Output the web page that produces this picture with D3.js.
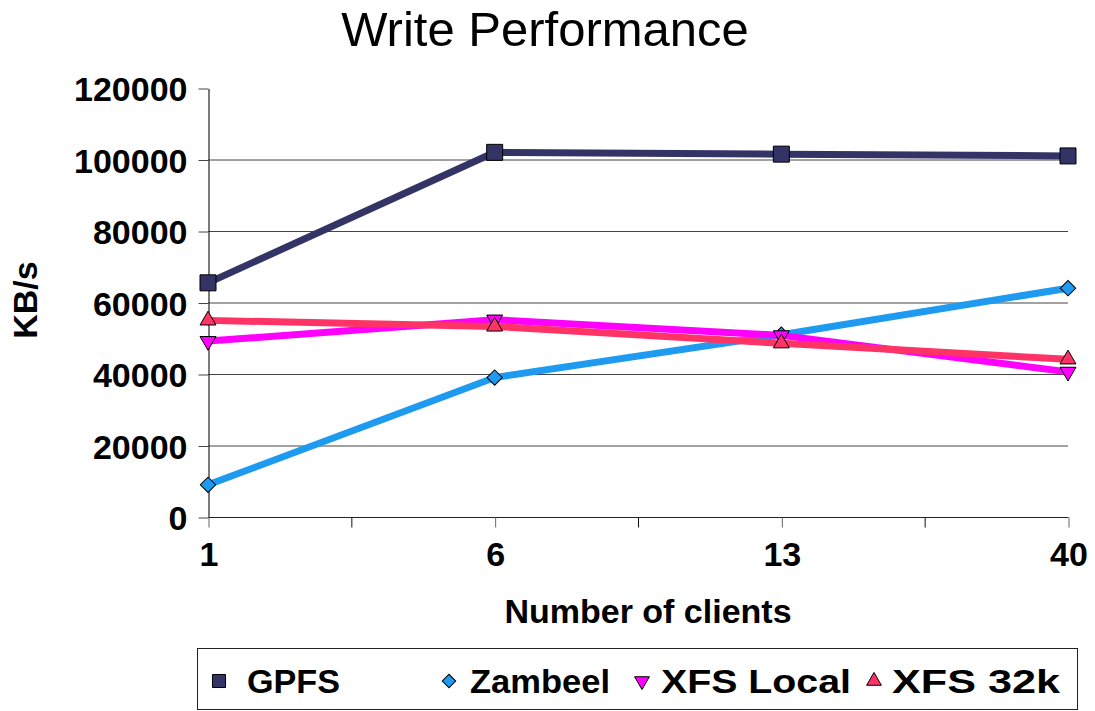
<!DOCTYPE html>
<html>
<head>
<meta charset="utf-8">
<script src="https://cdn.jsdelivr.net/npm/d3@7"></script>
<style>
  body { margin: 0; background: #fff; }
  text { font-family: Arial, 'Liberation Sans', sans-serif; }
</style>
</head>
<body>
<div id="chart"></div>
<script>
// data
var categories = ['1', '6', '13', '40'];
var gpfs = [65500, 102000, 101500, 101000];
var zambeel = [9000, 39000, 51000, 64000];
var xfsLocal = [49200, 55200, 50800, 40600];
var xfs32k = [55000, 53300, 48600, 44100];
var yTicks = [0, 20000, 40000, 60000, 80000, 100000, 120000];
var seriesNames = ['GPFS', 'Zambeel', 'XFS Local', 'XFS 32k'];

var chart_width = 1095;
var chart_height = 711;

var series = [
  { name: seriesNames[0], values: gpfs, color: '#333366', symbol: 'square' },
  { name: seriesNames[1], values: zambeel, color: '#1e9bf0', symbol: 'diamond' },
  { name: seriesNames[2], values: xfsLocal, color: '#ff00ff', symbol: 'down' },
  { name: seriesNames[3], values: xfs32k, color: '#ff3366', symbol: 'up' }
];

// scales
var x_scale = d3.scalePoint()
  .domain(categories)
  .range([208, 1068]);

var y_scale = d3.scaleLinear()
  .domain([0, 120000])
  .range([517, 88]);

var svg = d3.select('#chart')
  .append('svg')
  .attr('width', chart_width)
  .attr('height', chart_height);

// title
svg.append('text')
  .attr('x', 545)
  .attr('y', 46)
  .attr('text-anchor', 'middle')
  .style('font-size', '49px')
  .text('Write Performance');

// gridlines
svg.append('g')
  .selectAll('line')
  .data(yTicks.filter(d => d > 0 && d < 120000))
  .enter()
  .append('line')
  .attr('x1', 208)
  .attr('x2', 1068)
  .attr('y1', d => y_scale(d) + 0.5)
  .attr('y2', d => y_scale(d) + 0.5)
  .attr('stroke', '#444')
  .attr('stroke-width', 1);

// axes
var y_axis = d3.axisLeft(y_scale)
  .tickValues(yTicks)
  .tickSize(10)
  .tickSizeOuter(0)
  .tickPadding(11)
  .tickFormat(d3.format('d'));

var yg = svg.append('g')
  .attr('transform', 'translate(208.5,0.5)')
  .call(y_axis);
yg.select('.domain').attr('stroke', '#222').attr('stroke-width', 1.2);
yg.selectAll('.tick line').attr('stroke', '#444');
yg.selectAll('.tick text')
  .attr('dy', '0.36em')
  .style('font-family', 'Arial, Liberation Sans, sans-serif')
  .style('font-weight', 'bold')
  .style('font-size', '34px')
  .attr('fill', '#000');

var minorTicks = [];
for (var i = 0; i < categories.length - 1; i++) {
  minorTicks.push((x_scale(categories[i]) + x_scale(categories[i + 1])) / 2);
}

var x_axis = d3.axisBottom(x_scale)
  .tickSize(10)
  .tickSizeOuter(0)
  .tickPadding(14);

var xg = svg.append('g')
  .attr('transform', 'translate(0.5,517.5)')
  .call(x_axis);
xg.select('.domain').attr('d', 'M208,0H1068').attr('stroke', '#222').attr('stroke-width', 1.2);
xg.selectAll('.tick line').attr('stroke', '#666');
xg.selectAll('.tick text')
  .attr('dy', '0.71em')
  .style('font-family', 'Arial, Liberation Sans, sans-serif')
  .style('font-weight', 'bold')
  .style('font-size', '34px')
  .attr('fill', '#000');

xg.selectAll('.minor')
  .data(minorTicks)
  .enter()
  .append('line')
  .attr('class', 'minor')
  .attr('x1', d => d)
  .attr('x2', d => d)
  .attr('y1', 0)
  .attr('y2', 10)
  .attr('stroke', '#111');

// axis titles
svg.append('text')
  .attr('x', 648)
  .attr('y', 623)
  .attr('text-anchor', 'middle')
  .style('font-weight', 'bold')
  .style('font-size', '34px')
  .text('Number of clients');

svg.append('text')
  .attr('transform', 'translate(37,300) rotate(-90)')
  .attr('text-anchor', 'middle')
  .style('font-weight', 'bold')
  .style('font-size', '34px')
  .text('KB/s');

// markers
function markerPath(kind, big) {
  if (kind === 'square') return d3.symbol().type(d3.symbolSquare).size(big ? 256 : 170)();
  if (kind === 'diamond') return d3.symbol().type(d3.symbolSquare).size(big ? 118 : 90)();
  return d3.symbol().type(d3.symbolTriangle).size(big ? 110 : 95)();
}
function markerRotate(kind) {
  if (kind === 'diamond') return 45;
  if (kind === 'down') return 180;
  return 0;
}

// lines
var line = d3.line()
  .x((d, i) => x_scale(categories[i]))
  .y(d => y_scale(d));

series.forEach(function(s) {
  var g = svg.append('g');
  g.append('path')
    .datum(s.values)
    .attr('fill', 'none')
    .attr('stroke', s.color)
    .attr('stroke-width', 7)
    .attr('d', line);

  g.selectAll('path.mark')
    .data(s.values)
    .enter()
    .append('path')
    .attr('class', 'mark')
    .attr('d', markerPath(s.symbol, true))
    .attr('transform', (d, i) => 'translate(' + x_scale(categories[i]) + ',' + y_scale(d) + ') rotate(' + markerRotate(s.symbol) + ')')
    .attr('fill', s.color)
    .attr('stroke', '#000')
    .attr('stroke-width', 1);
});

// legend
svg.append('rect')
  .attr('x', 197.5)
  .attr('y', 648.5)
  .attr('width', 880)
  .attr('height', 61)
  .attr('fill', '#fff')
  .attr('stroke', '#222')
  .attr('stroke-width', 1);

var legendMarkX = [219, 449, 642, 874];
var legendTextX = [247, 470, 661, 892];
var legendTextW = [93, 140, 190, 168];
series.forEach(function(s, i) {
  svg.append('path')
    .attr('d', markerPath(s.symbol, false))
    .attr('transform', 'translate(' + legendMarkX[i] + ',681) rotate(' + markerRotate(s.symbol) + ')')
    .attr('fill', s.color)
    .attr('stroke', '#000')
    .attr('stroke-width', 1);
  svg.append('text')
    .attr('x', legendTextX[i])
    .attr('y', 693)
    .attr('textLength', legendTextW[i])
    .attr('lengthAdjust', 'spacingAndGlyphs')
    .style('font-weight', 'bold')
    .style('font-size', '34px')
    .text(s.name);
});
</script>
</body>
</html>
